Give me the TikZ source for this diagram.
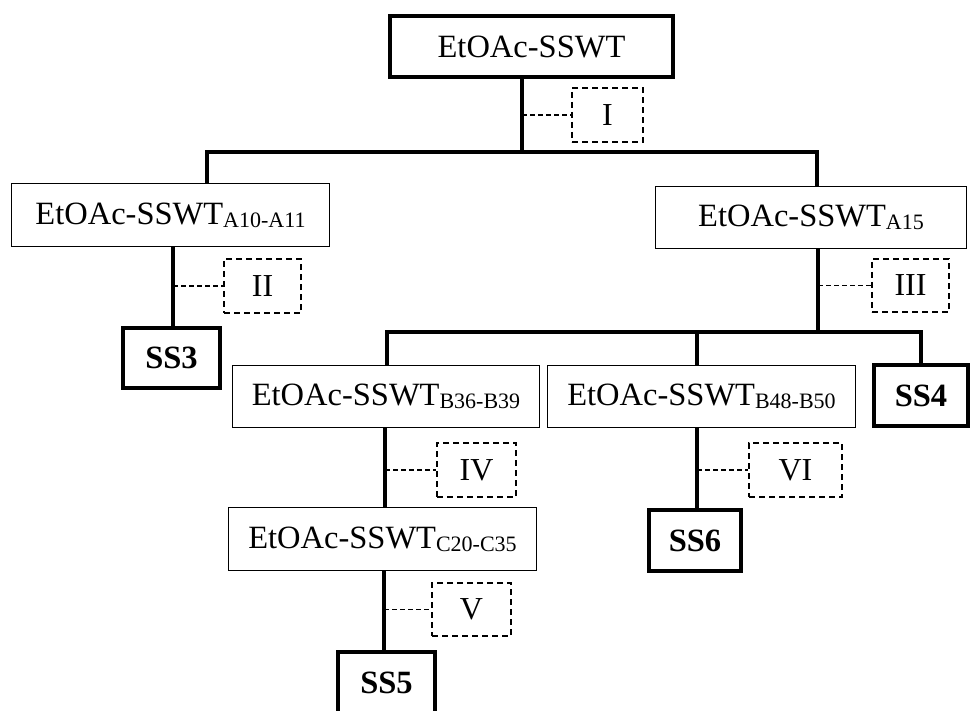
\documentclass[tikz,border=0pt]{standalone}
\usepackage{fontspec}
\setmainfont{Liberation Serif}
\newcommand\subtxt[1]{\raisebox{-3pt}{\fontsize{22}{23}\selectfont #1}}
\begin{document}
\begin{tikzpicture}[x=1pt,y=-1pt,
  thinbox/.style={draw,line width=1.6pt,rectangle,inner sep=0pt,font=\fontsize{32.5}{34}\selectfont},
  thickbox/.style={draw,line width=4pt,rectangle,inner sep=0pt,font=\fontsize{32.5}{34}\selectfont\bfseries},
  topbox/.style={draw,line width=4pt,rectangle,inner sep=0pt,font=\fontsize{32.5}{34}\selectfont},
  lab/.style={draw,line width=1.5pt,dash pattern=on 6pt off 4pt,rectangle,inner sep=0pt,font=\fontsize{32}{34}\selectfont},
  conn/.style={line width=4pt},
  dconn/.style={line width=1.6pt,dash pattern=on 5pt off 3pt}]
\useasboundingbox (0,0) rectangle (974,711);
% boxes
\node[topbox,minimum width=283pt,minimum height=61pt] (top) at (531.5,46.5) {EtOAc-SSWT};
\node[thinbox,minimum width=318pt,minimum height=63pt] (a10) at (170.5,215) {EtOAc-SSWT\subtxt{A10-A11}};
\node[thinbox,minimum width=311pt,minimum height=62pt] (a15) at (811,217.5) {EtOAc-SSWT\subtxt{A15}};
\node[thickbox,minimum width=97pt,minimum height=60pt] (ss3) at (171.5,358) {SS3};
\node[thinbox,minimum width=307pt,minimum height=62pt] (b36) at (386,396.5) {EtOAc-SSWT\subtxt{B36-B39}};
\node[thinbox,minimum width=308pt,minimum height=62pt] (b48) at (701.5,396.5) {EtOAc-SSWT\subtxt{B48-B50}};
\node[thickbox,minimum width=94pt,minimum height=61pt] (ss4) at (921,395.5) {SS4};
\node[thinbox,minimum width=308pt,minimum height=63pt] (c20) at (382.5,539) {EtOAc-SSWT\subtxt{C20-C35}};
\node[thickbox,minimum width=92pt,minimum height=61pt] (ss6) at (695,540.5) {SS6};
\node[thickbox,minimum width=97pt,minimum height=62pt] (ss5) at (386.5,683) {SS5};
% dashed labels
\node[lab,minimum width=71pt,minimum height=54pt] (l1) at (607.5,115) {I};
\node[lab,minimum width=77pt,minimum height=54pt] (l2) at (262.5,286) {II};
\node[lab,minimum width=77pt,minimum height=53pt] (l3) at (910.5,285.5) {III};
\node[lab,minimum width=79pt,minimum height=54pt] (l4) at (476.5,470) {IV};
\node[lab,minimum width=79pt,minimum height=53pt] (l5) at (471.5,609.5) {V};
\node[lab,minimum width=93pt,minimum height=54pt] (l6) at (795.5,470) {VI};
% bus coordinates
\coordinate (j1) at (522,152);
\coordinate (b1l) at (207,152);
\coordinate (b1r) at (817,152);
\coordinate (j2) at (818,332);
\coordinate (b2l) at (387,332);
\coordinate (b2m) at (697,332);
\coordinate (b2r) at (921,332);
% connectors
\draw[conn] (top.south -| j1) -- (j1);
\draw[conn] (a10.north -| b1l) -- (b1l) -- (b1r) -- (a15.north -| b1r);
\draw[dconn] (l1.west -| j1) -- (l1.west);
\draw[conn] (a10.south -| 173,0) -- (ss3.north -| 173,0);
\draw[dconn] (l2.west -| 173,0) -- (l2.west);
\draw[conn] (a15.south -| j2) -- (j2);
\draw[dconn] (l3.west -| j2) -- (l3.west);
\draw[conn] (b36.north -| b2l) -- (b2l) -- (b2r) -- (ss4.north -| b2r);
\draw[conn] (b2m) -- (b48.north -| b2m);
\draw[conn] (b36.south -| 385,0) -- (c20.north -| 385,0);
\draw[dconn] (l4.west -| 385,0) -- (l4.west);
\draw[conn] (c20.south -| 384,0) -- (ss5.north -| 384,0);
\draw[dconn] (l5.west -| 384,0) -- (l5.west);
\draw[conn] (b48.south -| b2m) -- (ss6.north -| b2m);
\draw[dconn] (l6.west -| b2m) -- (l6.west);
\end{tikzpicture}
\end{document}
